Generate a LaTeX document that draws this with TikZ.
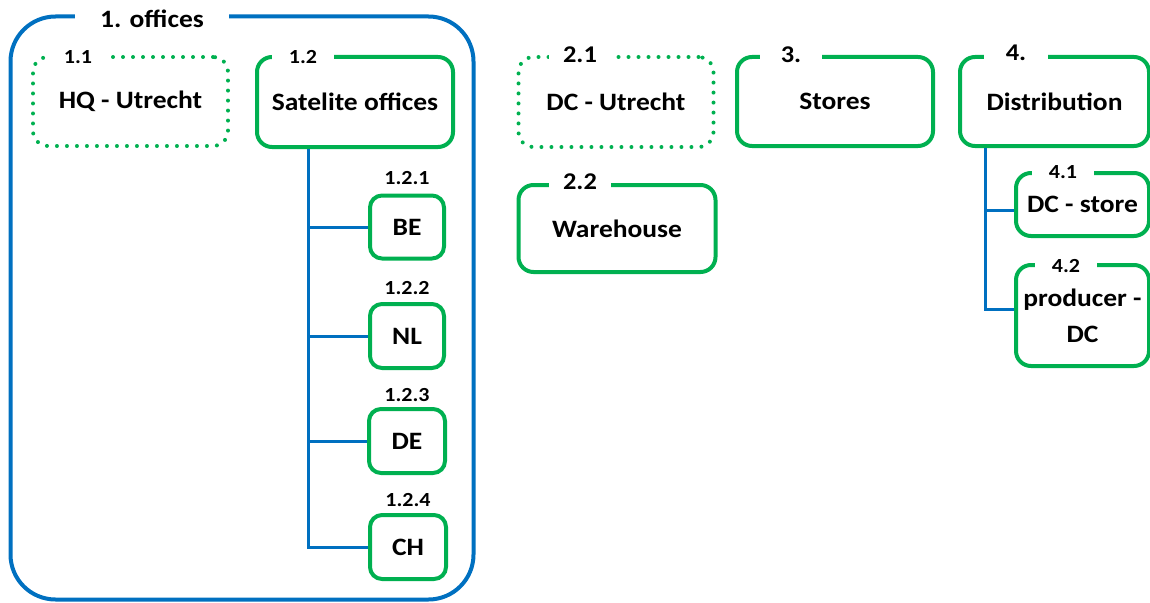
\documentclass[tikz,border=0pt]{standalone}
\usepackage{fontspec}
\setmainfont{Carlito}[FakeStretch=1.1]
\definecolor{grn}{HTML}{00B050}
\definecolor{blu}{HTML}{0070C0}
\newcommand{\mainfnt}{\bfseries\fontsize{25}{36}\selectfont}
\newcommand{\tagfnt}{\bfseries\fontsize{20}{22}\selectfont}
\newcommand{\midfnt}{\bfseries\fontsize{24}{26}\selectfont}
\begin{document}
\begin{tikzpicture}[x=1pt,y=-1pt,
  gbox/.style={draw=grn, line width=4pt, rounded corners=15pt, align=center, font=\mainfnt, inner sep=0pt},
  dotbox/.style={gbox, dash pattern=on 0pt off 10pt, line cap=round},
  sbox/.style={gbox, rounded corners=12pt},
  outerbox/.style={draw=blu, line width=4pt, rounded corners=45pt, inner sep=0pt},
  tag/.style={fill=white, inner sep=0pt, minimum width=62pt, minimum height=16pt, font=\tagfnt},
  midtag/.style={tag, font=\midfnt},
  bigtag/.style={fill=white, inner sep=0pt, minimum height=22pt, font=\mainfnt},
  conn/.style={draw=blu, line width=3pt}]
\useasboundingbox (0,0) rectangle (1150,602);
\clip (0,0) rectangle (1150,602);
% outer group
\node[outerbox, minimum width=463pt, minimum height=583pt] (off) at (242,308) {};
% boxes
\node[dotbox, minimum width=195pt, minimum height=89pt] (hq) at (130.5,101.5) {HQ - Utrecht};
\node[gbox, minimum width=196pt, minimum height=90pt] (sat) at (355,102) {Satelite offices};
\node[sbox, minimum width=74pt, minimum height=63pt] (be) at (407,227) {BE};
\node[sbox, minimum width=74pt, minimum height=64pt] (nl) at (407,336) {NL};
\node[sbox, minimum width=76pt, minimum height=64pt] (de) at (407,441) {DE};
\node[sbox, minimum width=76pt, minimum height=64pt] (ch) at (408,547) {CH};
\node[dotbox, minimum width=195pt, minimum height=90pt] (dcu) at (616,102) {DC - Utrecht};
\node[gbox, minimum width=197pt, minimum height=87pt] (wh) at (617,228.5) {Warehouse};
\node[gbox, minimum width=196pt, minimum height=89pt] (st) at (835,101.5) {Stores};
\node[gbox, minimum width=189pt, minimum height=89pt] (dist) at (1054.5,101.5) {Distribution};
\node[gbox, minimum width=133pt, minimum height=63pt] (dcs) at (1082.5,204.5) {DC - store};
\node[gbox, minimum width=133pt, minimum height=101pt] (pdc) at (1082.5,315.5) {producer -\\DC};
% connectors
\coordinate (t) at (308,0);
\coordinate (u1) at (985,210);
\coordinate (u2) at (985,309);
\draw[conn] (sat.south -| t) -- (t |- ch.west) -- (ch.west);
\draw[conn] (t |- be.west) -- (be.west);
\draw[conn] (t |- nl.west) -- (nl.west);
\draw[conn] (t |- de.west) -- (de.west);
\draw[conn] (dist.south -| u2) -- (u2) -- (u2 -| pdc.west);
\draw[conn] (u1) -- (u1 -| dcs.west);
% labels
\node[bigtag, minimum width=154pt] (toff) at (152,19) {1. offices};
\node[tag] (t11) at (78,57) {1.1};
\node[tag] (t12) at (303,57) {1.2};
\node[tag] (t121) at (407,178) {1.2.1};
\node[tag] (t122) at (407,288) {1.2.2};
\node[tag] (t123) at (407,395) {1.2.3};
\node[tag] (t124) at (408,500) {1.2.4};
\node[midtag] (t21) at (580,55) {2.1};
\node[midtag] (t22) at (580,182) {2.2};
\node[midtag] (t3) at (791,55) {3.};
\node[midtag, minimum width=64pt] (t4) at (1016,53) {4.};
\node[tag] (t41) at (1063,172) {4.1};
\node[tag] (t42) at (1066,266) {4.2};
\end{tikzpicture}
\end{document}
